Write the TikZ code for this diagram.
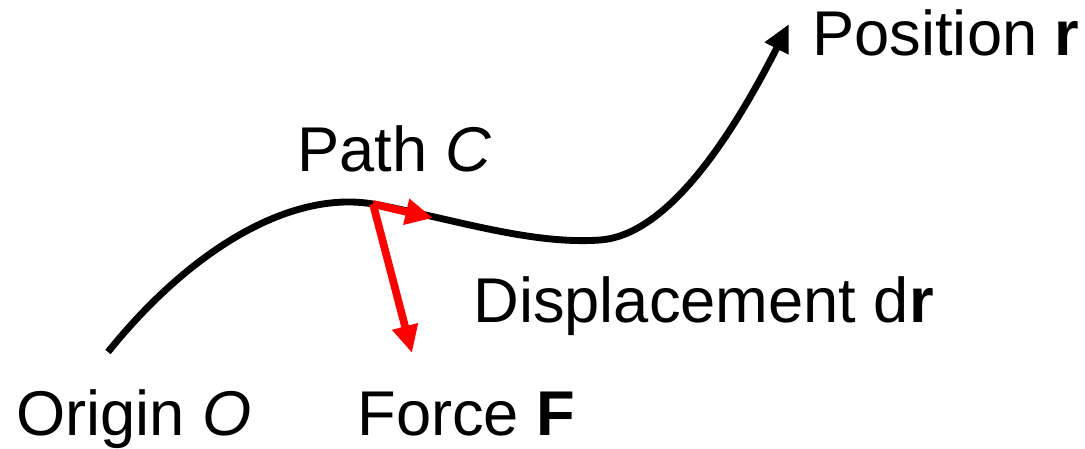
\documentclass[tikz,border=0pt]{standalone}
\usepackage{fontspec}
\setmainfont{Liberation Sans}
\usetikzlibrary{arrows.meta}
\begin{document}
\begin{tikzpicture}[x=0.02cm, y=-0.02cm,
  curve/.style={line width=3.9pt, -{Triangle[length=0.55cm, width=0.5cm]}},
  vec/.style={red, line width=4.4pt, -{Triangle[length=0.55cm, width=0.5cm]}},
  lbl/.style={anchor=base west, inner sep=0pt, font=\fontsize{36}{42}\selectfont}]
\useasboundingbox (0,0) rectangle (1085,449);
\coordinate (origin) at (108,352);
\coordinate (pt) at (373,204);
\coordinate (dip) at (600,240);
\coordinate (pos) at (789,24);
\coordinate (dr) at (433,218);
\coordinate (F) at (412,353);
\draw[curve] (origin) .. controls (190,250) and (290,190) .. (pt)
  .. controls (450,218) and (530,245) .. (dip)
  .. controls (670,235) and (735,130) .. (pos);
\draw[vec] (pt) -- (dr);
\draw[vec] (pt) -- (F);
\node[lbl] (poslbl) at (812,56) {Position \textbf{r}};
\node[lbl] (pathlbl) at (297,172) {Path \textit{C}};
\node[lbl] (displbl) at (473,322) {Displacement d\textbf{r}};
\node[lbl] (origlbl) at (16,435) {Origin \textit{O}};
\node[lbl] (forcelbl) at (357,435) {Force \textbf{F}};
\end{tikzpicture}
\end{document}
